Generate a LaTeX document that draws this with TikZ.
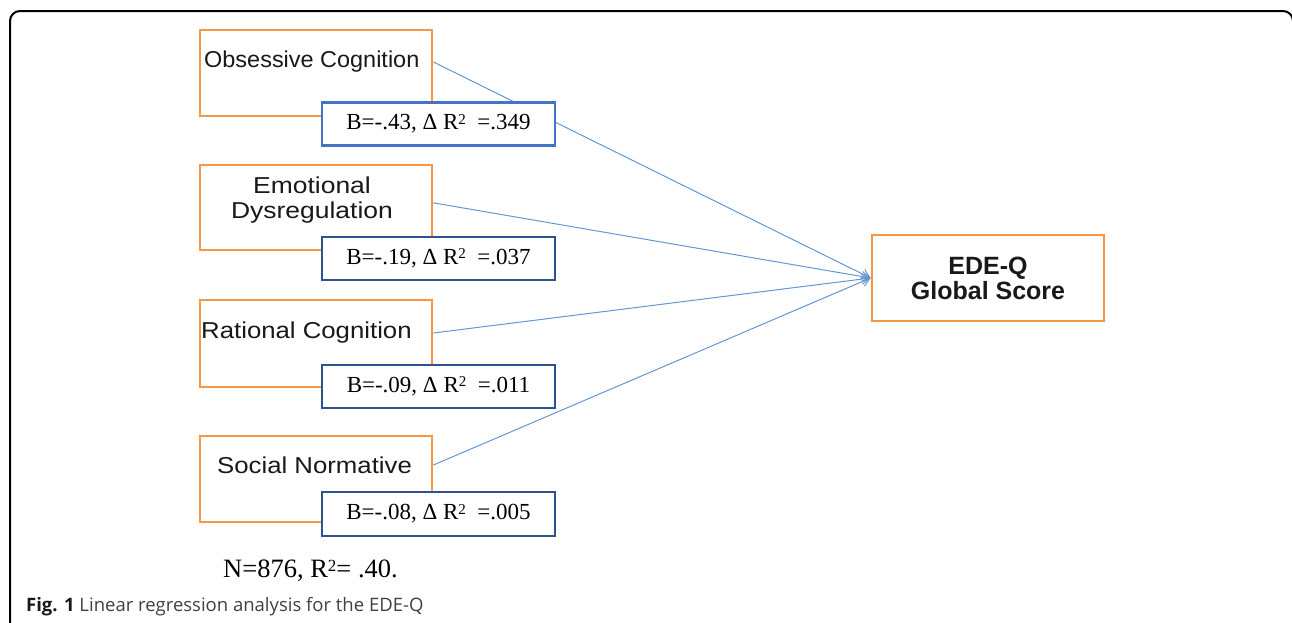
\documentclass[tikz,border=0pt]{standalone}
\usepackage{fontspec}
\setmainfont{Liberation Serif}
\newfontfamily\arial{Liberation Sans}
\newfontfamily\capfont{Open Sans}
\usetikzlibrary{arrows.meta}
\pgfdeclarelayer{bg}
\pgfsetlayers{bg,main}
\definecolor{orng}{RGB}{247,150,70}
\definecolor{blueA}{RGB}{68,114,196}
\definecolor{blueB}{RGB}{47,82,143}
\definecolor{connc}{RGB}{100,150,210}
\newcommand{\sqr}{\raisebox{5.5pt}{\fontsize{15}{15}\selectfont 2}}
\begin{document}
\begin{tikzpicture}[x=1pt,y=-1pt,
  obox/.style={draw=orng,line width=2.8pt,fill=white,minimum width=232pt,minimum height=86pt,inner sep=0pt},
  bbox/.style={draw=blueB,line width=2.6pt,fill=white,minimum width=233pt,minimum height=43pt,inner sep=0pt,font=\fontsize{23}{26}\selectfont},
  lbl/.style={font=\arial\fontsize{23}{25}\selectfont,inner sep=0pt,text=black!90},
  connector/.style={draw=connc,line width=1pt,-{Straight Barb[length=8pt,width=10pt]}}
]
\useasboundingbox (0,0) rectangle (1292,622);
\begin{scope}
\clip (0,0) rectangle (1292,622);
\draw[line width=2pt,rounded corners=10pt] (10,11) rectangle (1293,660);
\end{scope}

\node[obox] (ob) at (316,73) {};
\node[obox,minimum height=85pt] (em) at (316,207.5) {};
\node[obox,minimum height=87pt] (ra) at (316,343.5) {};
\node[obox] (so) at (316,479) {};

\node[lbl,anchor=west] (obt) at (204,62) {\scalebox{1.02}[1]{Obsessive Cognition}};
\node[lbl,align=center] (emt) at (312,200) {\scalebox{1.15}[1]{Emotional}\\\scalebox{1.15}[1]{Dysregulation}};
\node[lbl,anchor=west] (rat) at (201,333) {\scalebox{1.12}[1]{Rational Cognition}};
\node[lbl,anchor=west] (sot) at (217,465) {\scalebox{1.12}[1]{Social Normative}};

\node[bbox,draw=blueA] (obb) at (438.5,124) {B=-.43, Δ R\sqr\ \ =.349};
\node[bbox] (emb) at (438.5,258.5) {B=-.19, Δ R\sqr\ \ =.037};
\node[bbox] (rab) at (438.5,386.5) {B=-.09, Δ R\sqr\ \ =.011};
\node[bbox,minimum height=44pt] (sob) at (438.5,514) {B=-.08, Δ R\sqr\ \ =.005};

\node[obox,align=center,font=\arial\bfseries\fontsize{25}{25}\selectfont,text=black!90] (ede) at (988,278) {EDE-Q\\Global Score};

\node[font=\fontsize{26.5}{30}\selectfont,anchor=base west,inner sep=0pt] (nn) at (223,577) {N=876, R{\raisebox{6pt}{\fontsize{17}{17}\selectfont 2}}= .40.};

\node[font=\capfont\fontsize{18.5}{22}\selectfont,anchor=base west,inner sep=0pt,text=black!75] (cap) at (26,611) {\textbf{\color{black!90}Fig. 1} Linear regression analysis for the EDE-Q};

\begin{pgfonlayer}{bg}
\draw[connector] (ob.east |- obt.center) -- (ede.west);
\draw[connector] ([xshift=-2pt,yshift=5pt]em.east) -- (ede.west);
\draw[connector] (ra.east |- rat.center) -- (ede.west);
\draw[connector] (so.east |- sot.center) -- (ede.west);
\end{pgfonlayer}
\end{tikzpicture}
\end{document}
